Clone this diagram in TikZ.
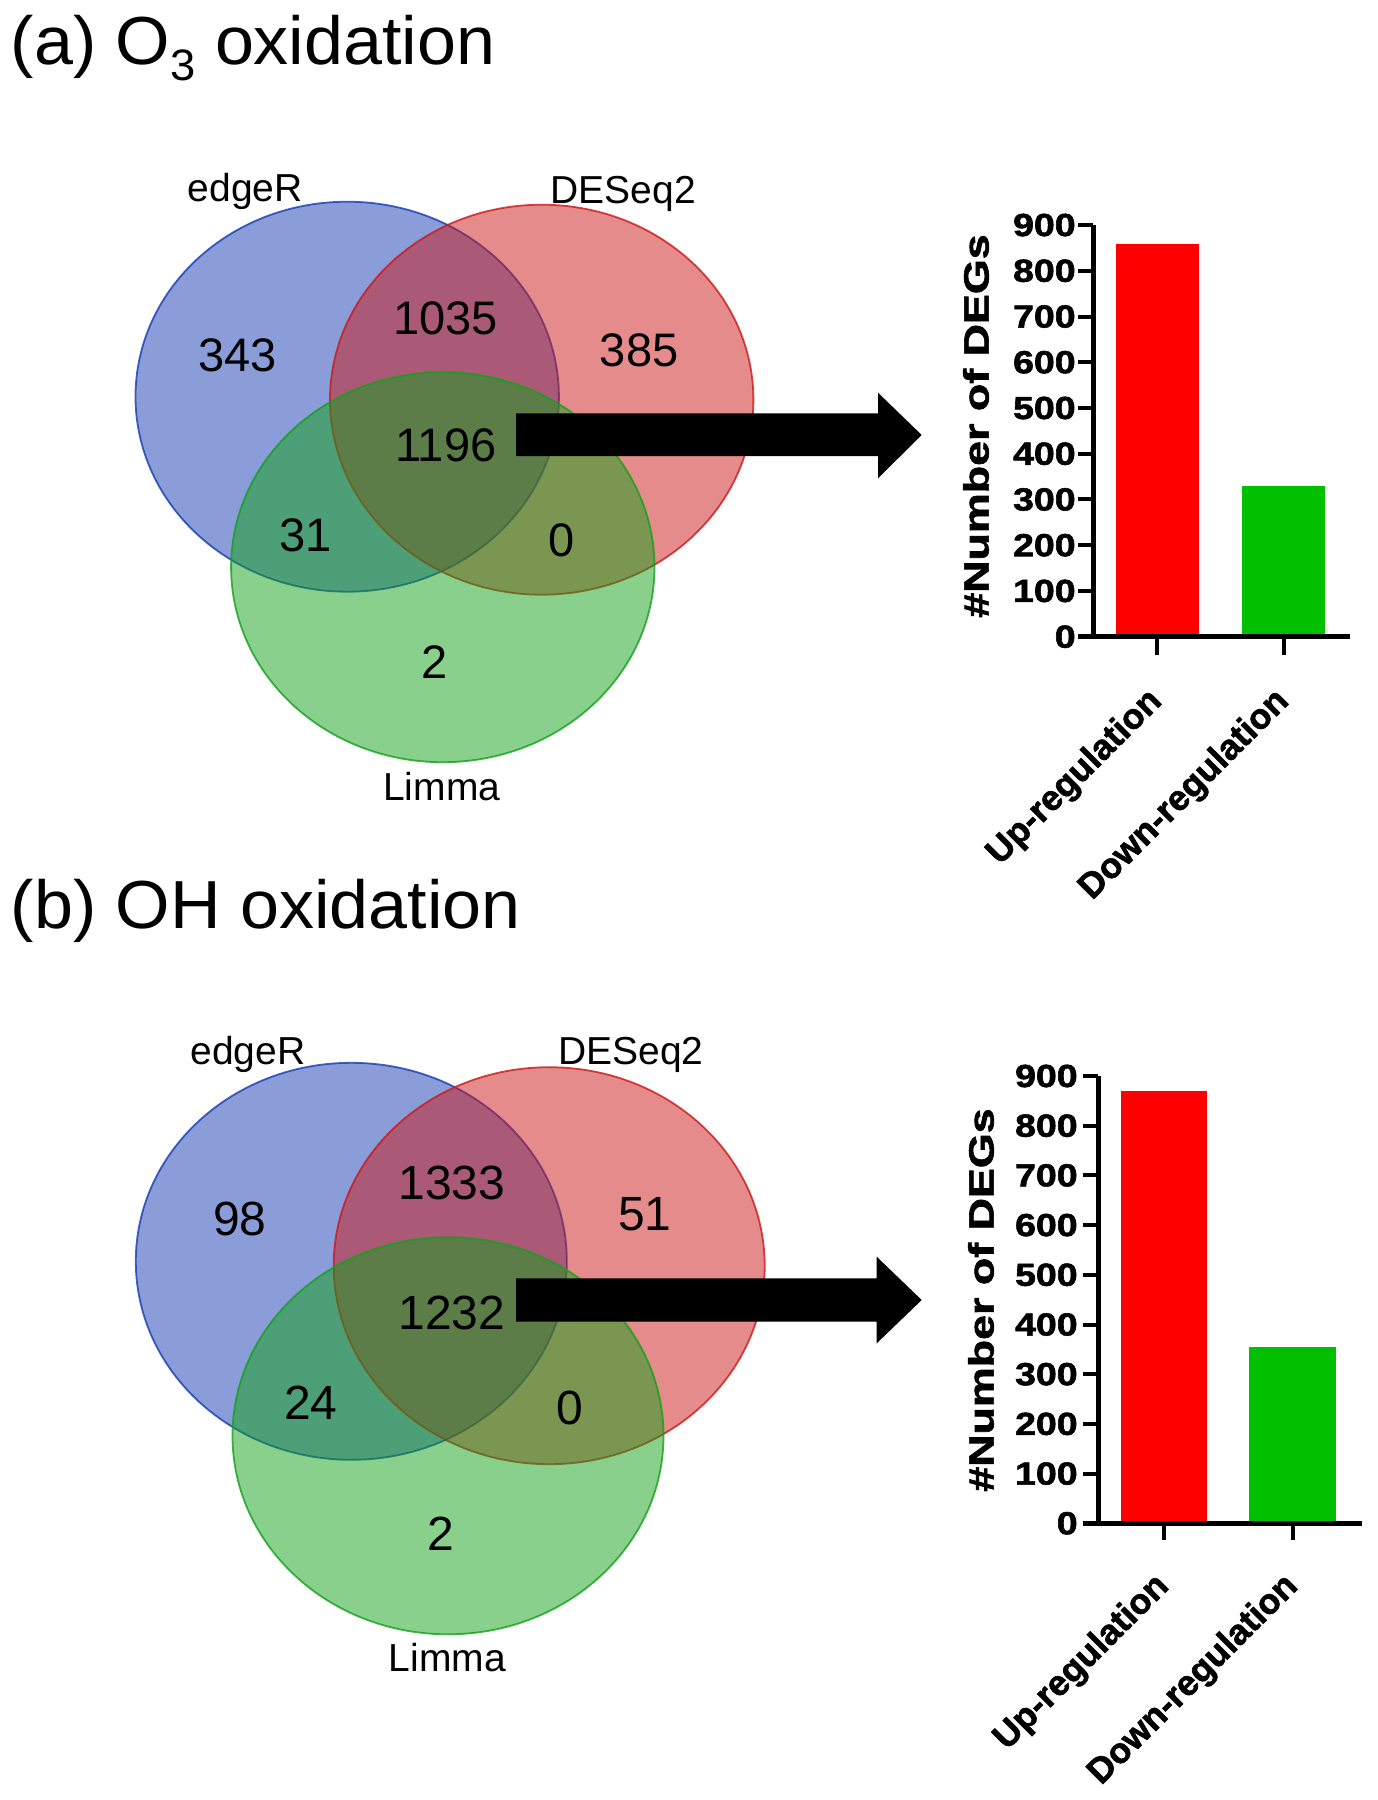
\documentclass[tikz,border=0pt]{standalone}
\usepackage{fontspec}
\usepackage{graphicx}
\setmainfont{Liberation Sans}
\newfontfamily\heavyfont{Liberation Sans}[BoldFeatures={FakeBold=1.6}]
\definecolor{vblue}{RGB}{21,59,177}
\definecolor{vred}{RGB}{203,23,23}
\definecolor{vgreen}{RGB}{17,161,25}
\definecolor{bred}{RGB}{255,0,0}
\definecolor{bgreen}{RGB}{0,192,0}
\begin{document}
\begin{tikzpicture}[x=0.5pt,y=-0.5pt,
  vset/.style={fill opacity=0.5, draw opacity=0.8, line width=0.9pt},
  vnum/.style={inner sep=0pt, font=\fontsize{23.5}{28}\selectfont},
  vnumb/.style={inner sep=0pt, font=\fontsize{24}{28}\selectfont},
  vlab/.style={inner sep=0pt, anchor=base, font=\fontsize{19.5}{23}\selectfont},
  ttl/.style={inner sep=0pt, anchor=base west, font=\fontsize{34}{40}\selectfont},
  axisline/.style={line width=2.5pt, line join=miter},
  tickline/.style={line width=2pt},
  ticklab/.style={inner sep=0pt, anchor=east, font=\heavyfont\fontsize{16}{19}\selectfont\bfseries},
  catlab/.style={inner sep=0pt, anchor=east, rotate=45, font=\heavyfont\fontsize{17.75}{21}\selectfont\bfseries},
  ylab/.style={inner sep=0pt, rotate=90, font=\heavyfont\fontsize{16}{19}\selectfont\bfseries},
  bigarrow/.style={fill=black}
]
\useasboundingbox (0,0) rectangle (1377,1800);

% ---------------- (a) ----------------
\node[ttl] (titleA) at (10.4,64) {\scalebox{1.03}[1]{(a) O{\fontsize{22}{22}\selectfont\raisebox{-8pt}{3}} oxidation}};

\draw[vset, fill=vblue, draw=vblue] (347.2,396.7) ellipse [x radius=105.85pt, y radius=97.5pt];
\draw[vset, fill=vred, draw=vred] (541.7,399.7) ellipse [x radius=105.85pt, y radius=97.5pt];
\draw[vset, fill=vgreen, draw=vgreen] (442.8,567.2) ellipse [x radius=105.85pt, y radius=97.5pt];

\node[vlab] (edgeA) at (245.3,201.7) {edgeR};
\node[vlab] (desA) at (623.3,203.3) {DESeq2};
\node[vlab] (limA) at (441.7,800) {Limma};

\node[vnum] (nA1) at (237.5,355) {343};
\node[vnum] (nA2) at (445.8,318.3) {1035};
\node[vnum] (nA3) at (639.2,350) {385};
\node[vnum] (nA4) at (445.8,445.8) {1196};
\node[vnum] (nA5) at (305.8,535.8) {31};
\node[vnum] (nA6) at (561.7,540) {0};
\node[vnum] (nA7) at (434.2,662.5) {2};

\fill[bigarrow] (516,413.3) -- (878,413.3) -- (878,392.7) -- (921.7,435) -- (878,478.3) -- (878,456) -- (516,456) -- cycle;

% bar chart (a)
\fill[bred] (1116,636.7) rectangle (1199.3,244);
\fill[bgreen] (1241.7,636.7) rectangle (1325,486);
\foreach \k in {0,...,9} {
  \draw[tickline] (1078.3,{636.7-45.74*\k}) -- (1093.3,{636.7-45.74*\k});
  \node[ticklab] (tA\k) at (1076,{636.7-45.74*\k}) {\scalebox{1.17}[1]{\the\numexpr\k*100\relax}};
}
\draw[axisline] (1093.3,225) -- (1093.3,636.7) -- (1350,636.7);
\draw[axisline] (1078.3,636.7) -- (1093.3,636.7);
\draw[tickline] (1156.7,636.7) -- (1156.7,655);
\draw[tickline] (1284,636.7) -- (1284,655);
\node[ylab] (ylA) at (976,426) {\scalebox{1.4}[1.1]{\#Number of DEGs}};
\node[catlab] (upA) at (1157,696) {Up-regulation};
\node[catlab] (dnA) at (1284,696) {Down-regulation};

% ---------------- (b) ----------------
\node[ttl] (titleB) at (10.4,928) {\scalebox{1.03}[1]{(b) OH oxidation}};

\draw[vset, fill=vblue, draw=vblue] (351.3,1261.3) ellipse [x radius=107.75pt, y radius=99.25pt];
\draw[vset, fill=vred, draw=vred] (549.2,1265.7) ellipse [x radius=107.75pt, y radius=99.25pt];
\draw[vset, fill=vgreen, draw=vgreen] (448,1435.8) ellipse [x radius=107.75pt, y radius=99.25pt];

\node[vlab] (edgeB) at (248,1064) {edgeR};
\node[vlab] (desB) at (630.8,1064) {DESeq2};
\node[vlab] (limB) at (447.5,1671.7) {Limma};

\node[vnumb] (nB1) at (240,1219.2) {98};
\node[vnumb] (nB2) at (451.7,1183.3) {1333};
\node[vnumb] (nB3) at (645,1214.2) {51};
\node[vnumb] (nB4) at (451.7,1313.3) {1232};
\node[vnumb] (nB5) at (310.8,1402.5) {24};
\node[vnumb] (nB6) at (570,1408.3) {0};
\node[vnumb] (nB7) at (440.8,1534.2) {2};

\fill[bigarrow] (516,1278.3) -- (876.7,1278.3) -- (876.7,1256.7) -- (921.7,1300) -- (876.7,1343.3) -- (876.7,1321.7) -- (516,1321.7) -- cycle;

% bar chart (b)
\fill[bred] (1120.7,1523.3) rectangle (1206.7,1090.7);
\fill[bgreen] (1249.3,1523.3) rectangle (1336,1346.7);
\foreach \k in {0,...,9} {
  \draw[tickline] (1083.3,{1523.3-49.7*\k}) -- (1098.3,{1523.3-49.7*\k});
  \node[ticklab] (tB\k) at (1078,{1523.3-49.7*\k}) {\scalebox{1.17}[1]{\the\numexpr\k*100\relax}};
}
\draw[axisline] (1098.3,1076) -- (1098.3,1523.3) -- (1361.7,1523.3);
\draw[axisline] (1083.3,1523.3) -- (1098.3,1523.3);
\draw[tickline] (1164,1523.3) -- (1164,1540);
\draw[tickline] (1293.3,1523.3) -- (1293.3,1540);
\node[ylab] (ylB) at (981,1300) {\scalebox{1.4}[1.1]{\#Number of DEGs}};
\node[catlab] (upB) at (1164,1581) {Up-regulation};
\node[catlab] (dnB) at (1293,1581) {Down-regulation};
\end{tikzpicture}
\end{document}
